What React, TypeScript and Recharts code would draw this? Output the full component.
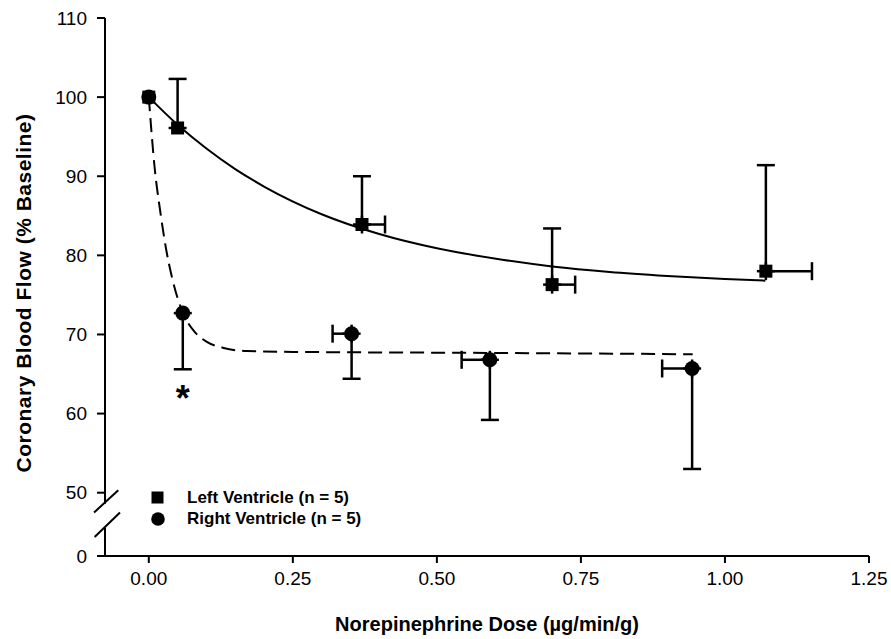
import {
  ScatterChart,
  Scatter,
  XAxis,
  YAxis,
  ErrorBar,
  ReferenceLine,
  ReferenceDot,
  Legend,
} from "recharts";

// left ventricle (squares): mean, upward SEM, rightward dose SEM
const lvDose = [0, 0.05, 0.37, 0.7, 1.071];
const lvFlow = [100, 96.1, 83.9, 76.3, 78.0];
const lvErrUp = [0, 6.2, 6.1, 7.1, 13.4];
const lvErrRight = [0, 0, 0.04, 0.04, 0.08];

// right ventricle (circles): mean, downward SEM, leftward dose SEM
const rvDose = [0, 0.059, 0.352, 0.592, 0.943];
const rvFlow = [100, 72.7, 70.1, 66.8, 65.7];
const rvErrDown = [0, 7.1, 5.7, 7.6, 12.7];
const rvErrLeft = [0, 0, 0.033, 0.049, 0.052];

// fitted curves
const lvCurveX = [0, 0.05, 0.1, 0.15, 0.2, 0.3, 0.4, 0.5, 0.6, 0.7, 0.8, 0.9, 1.0, 1.07];
const lvCurveY = [100, 96.5, 93.5, 90.9, 88.7, 85.2, 82.7, 80.9, 79.6, 78.6, 77.9, 77.4, 77.0, 76.8];
const rvCurveX = [0, 0.01, 0.02, 0.03, 0.04, 0.05, 0.06, 0.08, 0.1, 0.13, 0.17, 0.25, 0.5, 0.75, 0.944];
const rvCurveY = [100, 91.2, 85.5, 80.8, 77.3, 74.6, 72.6, 70.3, 69.1, 68.3, 67.9, 67.8, 67.7, 67.6, 67.5];

const xTicks = [0, 0.25, 0.5, 0.75, 1.0, 1.25];
const yTicks = [42, 50, 60, 70, 80, 90, 100, 110];
const yBreakLabel = 42; // shown as "0" below the axis break

const FONT = "'Liberation Sans', Arial, Helvetica, sans-serif";
const X_MIN = -0.076;

const lvData = lvDose.map((x, i) => ({
  x,
  y: lvFlow[i],
  ey: lvErrUp[i] ? [0, lvErrUp[i]] : undefined,
  ex: lvErrRight[i] ? [0, lvErrRight[i]] : undefined,
}));
const rvData = rvDose.map((x, i) => ({
  x,
  y: rvFlow[i],
  ey: rvErrDown[i] ? [rvErrDown[i], 0] : undefined,
  ex: rvErrLeft[i] ? [rvErrLeft[i], 0] : undefined,
}));
const lvCurve = lvCurveX.map((x, i) => ({ x, y: lvCurveY[i] }));
const rvCurve = rvCurveX.map((x, i) => ({ x, y: rvCurveY[i] }));

const Square = (p: any) => (
  <rect x={p.cx - 6.5} y={p.cy - 6.5} width={13} height={13} fill="#000" />
);
const Dot = (p: any) => <circle cx={p.cx} cy={p.cy} r={7.5} fill="#000" />;
const NoShape = () => null;

const Star = (p: any) => (
  <text
    x={p.cx}
    y={p.cy + 0.58 * 36}
    textAnchor="middle"
    fontSize={36}
    fontWeight="bold"
    fontFamily={FONT}
    fill="#000"
  >
    *
  </text>
);

const LegendBox = () => (
  <div style={{ fontFamily: FONT, fontWeight: "bold", fontSize: 17, color: "#000" }}>
    <div style={{ display: "flex", alignItems: "center", height: 21 }}>
      <svg width={13} height={13} style={{ marginRight: 23 }}>
        <rect x={0.5} y={0.5} width={12} height={12} fill="#000" />
      </svg>
      <span>Left Ventricle (n = 5)</span>
    </div>
    <div style={{ display: "flex", alignItems: "center", height: 21 }}>
      <svg width={14} height={14} style={{ marginRight: 22 }}>
        <circle cx={7} cy={7} r={6.8} fill="#000" />
      </svg>
      <span>Right Ventricle (n = 5)</span>
    </div>
  </div>
);

const YTitle = (props: any) => {
  const vb = props.viewBox;
  const cx = vb.x + 23;
  const cy = vb.y + vb.height / 2 + 6;
  return (
    <text
      x={cx}
      y={cy}
      transform={`rotate(-90 ${cx} ${cy})`}
      textAnchor="middle"
      dominantBaseline="central"
      fontFamily={FONT}
      fontWeight="bold"
      fontSize={21}
      letterSpacing={0.5}
      fill="#000"
    >
      Coronary Blood Flow (% Baseline)
    </text>
  );
};

const XTitle = (props: any) => {
  const vb = props.viewBox;
  return (
    <text
      x={vb.x + vb.width / 2}
      y={vb.y + 68}
      textAnchor="middle"
      dominantBaseline="central"
      fontFamily={FONT}
      fontWeight="bold"
      fontSize={20}
      fill="#000"
    >
      Norepinephrine Dose (µg/min/g)
    </text>
  );
};

const tickStyle = { fontSize: 19, fill: "#000", fontFamily: FONT };
const barStyle = { stroke: "#000", strokeWidth: 2.5 };

export default function App() {
  return (
    <div style={{ position: "absolute", left: 0, top: 0, width: 891, height: 639, background: "#fff" }}>
      <ScatterChart width={891} height={639} margin={{ top: 18, right: 22, bottom: 0, left: 0 }}>
        <XAxis
          type="number"
          dataKey="x"
          domain={[X_MIN, 1.25]}
          allowDataOverflow
          ticks={xTicks}
          interval={0}
          tickFormatter={(v) => Number(v).toFixed(2)}
          height={83}
          tick={tickStyle}
          tickSize={7}
          tickMargin={9}
          axisLine={{ stroke: "#000", strokeWidth: 2 }}
          tickLine={{ stroke: "#000", strokeWidth: 2 }}
          label={{ content: XTitle }}
        />
        <YAxis
          type="number"
          dataKey="y"
          domain={[42, 110]}
          allowDataOverflow
          ticks={yTicks}
          interval={0}
          tickFormatter={(v) => (v === yBreakLabel ? "0" : String(v))}
          width={105}
          tick={tickStyle}
          tickSize={8}
          tickMargin={10}
          axisLine={false}
          tickLine={{ stroke: "#000", strokeWidth: 2 }}
          label={{ content: YTitle }}
        />

        {/* broken y axis */}
        <ReferenceLine
          segment={[{ x: X_MIN, y: 110 }, { x: X_MIN, y: 48.6 }]}
          stroke="#000"
          strokeWidth={2}
          ifOverflow="visible"
        />
        <ReferenceLine
          segment={[{ x: X_MIN, y: 45.6 }, { x: X_MIN, y: 42 }]}
          stroke="#000"
          strokeWidth={2}
          ifOverflow="visible"
        />
        <ReferenceLine
          segment={[{ x: -0.095, y: 47.5 }, { x: -0.053, y: 50.3 }]}
          stroke="#000"
          strokeWidth={2}
          ifOverflow="visible"
        />
        <ReferenceLine
          segment={[{ x: -0.094, y: 44.4 }, { x: -0.05, y: 47.5 }]}
          stroke="#000"
          strokeWidth={2}
          ifOverflow="visible"
        />

        <Scatter
          data={lvCurve}
          line={{ stroke: "#000", strokeWidth: 2 }}
          lineJointType="monotoneX"
          shape={NoShape}
          legendType="none"
          isAnimationActive={false}
        />
        <Scatter
          data={rvCurve}
          line={{ stroke: "#000", strokeWidth: 2, strokeDasharray: "14 7" }}
          lineJointType="monotoneX"
          shape={NoShape}
          legendType="none"
          isAnimationActive={false}
        />

        <Scatter name="Left Ventricle (n = 5)" data={lvData} shape={Square} isAnimationActive={false}>
          <ErrorBar dataKey="ey" direction="y" width={9} {...barStyle} />
          <ErrorBar dataKey="ex" direction="x" width={9} {...barStyle} />
        </Scatter>
        <Scatter name="Right Ventricle (n = 5)" data={rvData} shape={Dot} isAnimationActive={false}>
          <ErrorBar dataKey="ey" direction="y" width={9} {...barStyle} />
          <ErrorBar dataKey="ex" direction="x" width={9} {...barStyle} />
        </Scatter>

        <ReferenceDot x={0.059} y={63.0} r={0} shape={Star} ifOverflow="visible" />

        <Legend
          layout="vertical"
          align="center"
          verticalAlign="middle"
          content={LegendBox}
          wrapperStyle={{ left: 151, top: 487, width: 260, height: 44 }}
        />
      </ScatterChart>
    </div>
  );
}
